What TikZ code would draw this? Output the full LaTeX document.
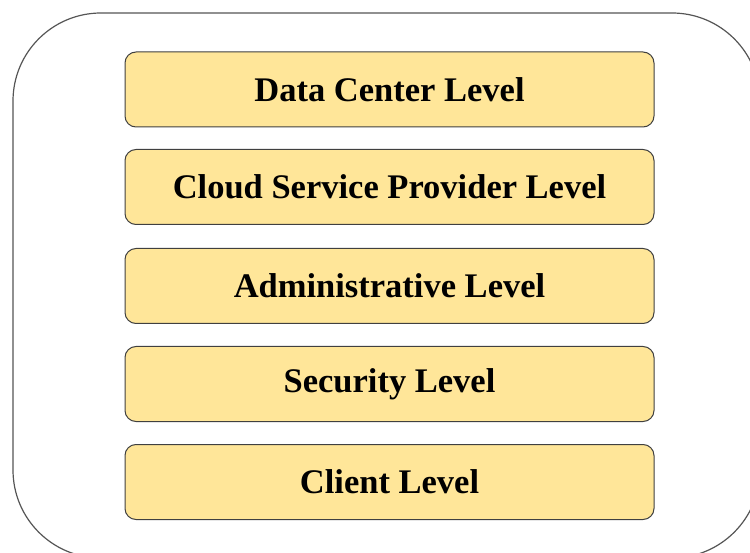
\documentclass[tikz,border=0pt]{standalone}
\usepackage{fontspec}
\setmainfont{Liberation Serif}
\usetikzlibrary{positioning}

\definecolor{levelfill}{HTML}{FFE699}
\definecolor{levelline}{HTML}{404040}
\definecolor{frameline}{HTML}{555555}

\begin{document}
\begin{tikzpicture}[
    x = 1pt, y = -1pt,
    frame/.style = {draw = frameline, line width = 1.2pt, rounded corners = 88pt, minimum width = 747pt, minimum height = 545pt, inner sep = 0pt},
    level/.style = {draw = levelline, fill = levelfill, line width = 1pt, rounded corners = 11pt, minimum width = 529pt, minimum height = 75pt, inner sep = 0pt, font = \fontsize{34.5}{38}\selectfont\bfseries},
    ]
    \useasboundingbox (0,0) rectangle (750,553);
    \clip (0,0) rectangle (750,553);
    \node[frame] (F) at (386.5, 285.5) {};

    \node[level] (DC) at (389.5, 89.5) {Data Center Level};
    \node[level] (CSP) at (389.5, 187) {Cloud Service Provider Level};
    \node[level] (AD) at (389.5, 286) {Administrative Level};
    \node[level] (SE) at (389.5, 384) {Security Level};
    \node[level] (CL) at (389.5, 482) {Client Level};
\end{tikzpicture}
\end{document}
